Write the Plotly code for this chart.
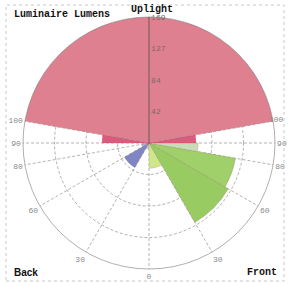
import plotly.graph_objects as go

# Vertical-angle zones (degrees from nadir)
zone_start = [0, 30, 60, 80, 90, 100]
zone_end = [30, 60, 80, 90, 100, 180]
front_lumens = [34, 123, 118, 66, 63, 169]
back_lumens = [8, 38, 10, 6, 63, 169]
front_colors = ["#cfe68a", "#98cc62", "#9fd06a", "#c9dcb8", "#dc5a7c", "#df8090"]
back_colors = ["#c8c8e0", "#7f86c4", "#aab0d8", "#c8c8e0", "#dc5a7c", "#df8090"]
ring_vals = [42.25, 84.5, 126.75, 169]
ring_text = ["42", "84", "127", "169"]
angle_ticks = [0, 30, 60, 80, 90, 100, 180, 260, 270, 280, 300, 330]
angle_text = ["0", "30", "60", "80", "90", "", "", "100", "90", "80", "60", "30"]
front_edge_label = "100"

fig = go.Figure()

f_theta = [(s + e) / 2 for s, e in zip(zone_start, zone_end)]
f_width = [e - s for s, e in zip(zone_start, zone_end)]
b_theta = [360 - t for t in f_theta]

fig.add_trace(go.Barpolar(
    r=back_lumens, theta=b_theta, width=f_width,
    marker=dict(color=back_colors, line=dict(color="rgba(150,80,100,0.35)", width=0.5)),
    hoverinfo="skip", showlegend=False))
fig.add_trace(go.Barpolar(
    r=front_lumens, theta=f_theta, width=f_width,
    marker=dict(color=front_colors, line=dict(color="rgba(150,80,100,0.35)", width=0.5)),
    hoverinfo="skip", showlegend=False))

fig.update_layout(
    width=288, height=284,
    margin=dict(l=0, r=0, t=0, b=0),
    paper_bgcolor="white",
    plot_bgcolor="white",
    polar=dict(
        domain=dict(x=[23 / 288, 275 / 288], y=[1 - 269 / 284, 1 - 17 / 284]),
        bgcolor="rgba(0,0,0,0)",
        bargap=0,
        angularaxis=dict(
            rotation=270, direction="counterclockwise",
            tickmode="array", tickvals=angle_ticks, ticktext=angle_text,
            showline=True, linecolor="rgba(130,120,120,0.6)", linewidth=1,
            gridcolor="rgba(110,100,100,0.5)", griddash="3px,2px", gridwidth=1,
            ticks="", layer="above traces",
            tickfont=dict(family="Liberation Mono", size=8, color="#8a8a8a"),
        ),
        radialaxis=dict(
            range=[0, 169], tickmode="array", tickvals=ring_vals, ticktext=ring_text,
            angle=90, tickangle=90, showline=True, linecolor="rgba(90,80,80,0.7)",
            gridcolor="rgba(110,100,100,0.5)", griddash="3px,2px", gridwidth=1,
            ticks="", layer="above traces",
            tickfont=dict(family="Liberation Mono", size=8, color="#7a6a6a"),
        ),
    ),
    shapes=[dict(type="rect", xref="paper", yref="paper",
                 x0=6 / 288, x1=284 / 288, y0=3 / 284, y1=1 - 5 / 284,
                 line=dict(color="#c8c8c8", width=1, dash="dot"))],
    annotations=[
        dict(text="<b>Luminaire Lumens</b>", x=12 / 288, y=1 - 14 / 284, xref="paper", yref="paper",
             xanchor="left", yanchor="middle", showarrow=False,
             font=dict(family="Liberation Mono", size=10, color="#111")),
        dict(text="<b>Uplight</b>", x=152 / 288, y=1 - 10 / 284, xref="paper", yref="paper",
             xanchor="center", yanchor="middle", showarrow=False,
             font=dict(family="Liberation Mono", size=10, color="#111")),
        dict(text="<b>Back</b>", x=12 / 288, y=1 - 272 / 284, xref="paper", yref="paper",
             xanchor="left", yanchor="middle", showarrow=False,
             font=dict(family="Liberation Sans", size=10, color="#111")),
        dict(text="<b>Front</b>", x=279 / 288, y=1 - 272 / 284, xref="paper", yref="paper",
             xanchor="right", yanchor="middle", showarrow=False,
             font=dict(family="Liberation Mono", size=10, color="#111")),
        dict(text=front_edge_label, x=286 / 288, y=1 - 119 / 284, xref="paper", yref="paper",
             xanchor="right", yanchor="middle", showarrow=False,
             font=dict(family="Liberation Mono", size=8, color="#8a8a8a")),
    ],
)

fig.write_html("out.html", config={"displayModeBar": False},
               post_script="document.body.style.margin='0';document.body.style.overflow='hidden';")
